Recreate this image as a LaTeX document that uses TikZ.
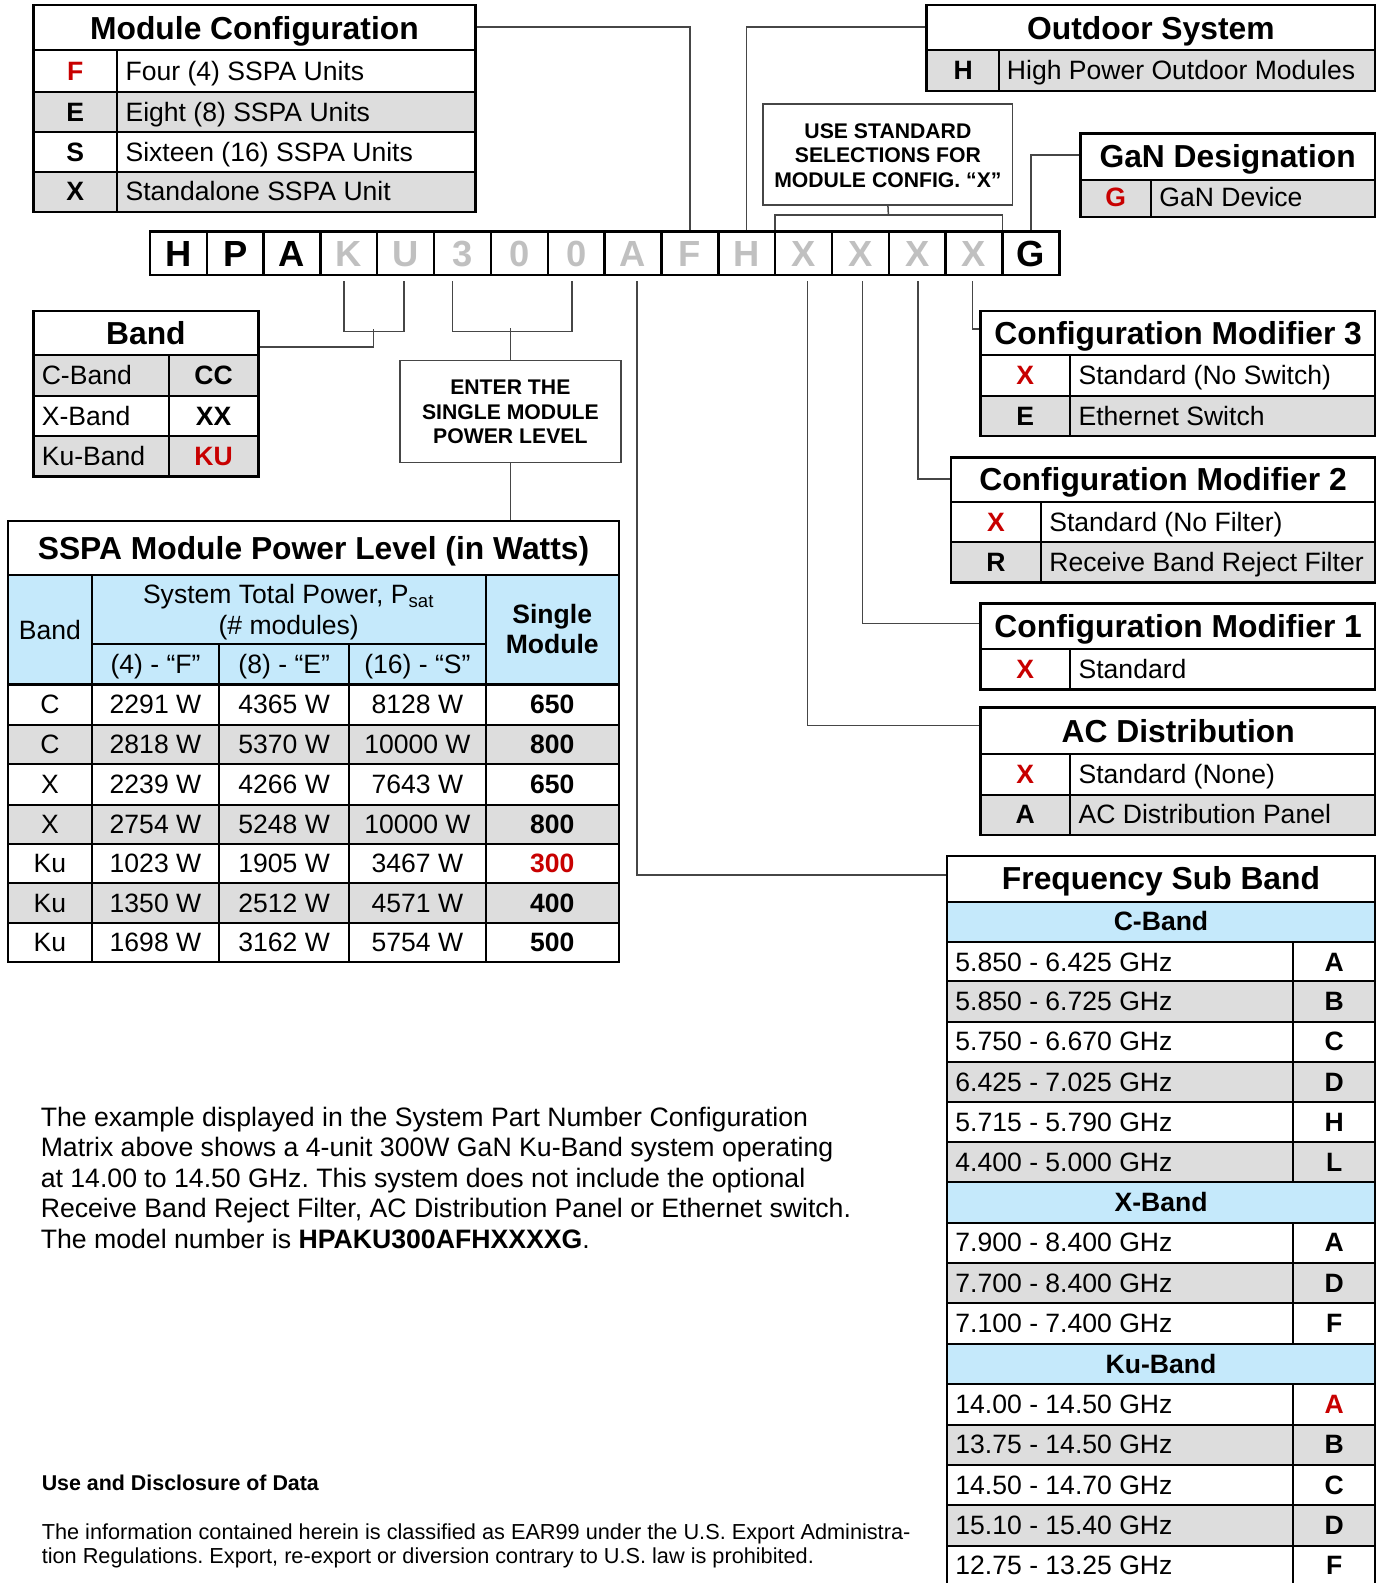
\documentclass[tikz,border=0pt]{standalone}
\usepackage{fontspec}
\setmainfont{Liberation Sans}
\usetikzlibrary{fit}
\definecolor{rd}{RGB}{200,0,0}
\definecolor{gy}{RGB}{221,221,221}
\definecolor{bl}{RGB}{197,233,251}
\definecolor{lg}{RGB}{192,192,192}
\definecolor{cn}{RGB}{70,70,70}
\frenchspacing
\newcount\nn
\newcommand\T[4][]{\global\advance\nn by 1 \node[txt,anchor=base west,#1] (t\the\nn) at (#2,#3) {#4};}
\newcommand\C[4][]{\global\advance\nn by 1 \node[txt,anchor=base,#1] (t\the\nn) at (#2,#3) {#4};}
\tikzset{
 txt/.style={font=\fontsize{13.15}{15}\selectfont, inner sep=0pt},
 bt/.style={font=\fontsize{13.15}{15}\selectfont\bfseries},
 ttl/.style={font=\fontsize{15.75}{18}\selectfont\bfseries},
 para/.style={font=\fontsize{13.2}{15}\selectfont},
 sm/.style={font=\fontsize{10.75}{12}\selectfont},
 smb/.style={font=\fontsize{10.6}{12}\selectfont\bfseries},
 frame/.style={draw, line width=1.3pt, inner sep=0pt},
 grid/.style={line width=1.0pt},
 conn/.style={draw=cn, line width=0.75pt},
 note/.style={draw=cn, line width=0.75pt, inner sep=0pt},
 notetxt/.style={font=\fontsize{10.5}{12}\selectfont\bfseries, align=center, inner sep=0pt},
}
\begin{document}
\begin{tikzpicture}[x=0.5pt,y=-0.5pt]
\useasboundingbox (0,0) rectangle (1366,1568);
\fill[white] (0,0) rectangle (1366,1568);

% ---------- Module Configuration
\fill[gy] (33,91) rectangle (471,131);
\fill[gy] (33,170) rectangle (471,210);
\draw[grid] (33,50) -- (471,50) (33,91) -- (471,91) (33,131) -- (471,131) (33,170) -- (471,170) (116,50) -- (116,210);
\node[frame, fit={(33,5) (471,210)}] (mc) {};
\C[ttl]{252}{39}{Module Configuration}
\C[bt,text=rd]{74.5}{79.5}{F} \T{124}{79.5}{Four (4) SSPA Units}
\C[bt]{74.5}{120}{E} \T{124}{120}{Eight (8) SSPA Units}
\C[bt]{74.5}{159.5}{S} \T{124}{159.5}{Sixteen (16) SSPA Units}
\C[bt]{74.5}{199}{X} \T{124}{199}{Standalone SSPA Unit}

% ---------- Outdoor System
\fill[gy] (918,50) rectangle (1362,90);
\draw[grid] (918,50) -- (1362,50) (990,50) -- (990,90);
\node[frame, fit={(918,5) (1362,90)}] (os) {};
\C[ttl]{1140}{39}{Outdoor System}
\C[bt]{954}{79}{H} \T{997}{79}{High Power Outdoor Modules}

% ---------- Use standard note
\node[note, fit={(756,103) (1003,203)}] (us) {};
\node[notetxt] (ust) at (879.5,154) {USE STANDARD\\SELECTIONS FOR\\MODULE CONFIG. “X”};

% ---------- GaN Designation
\fill[gy] (1070,178) rectangle (1362,215);
\draw[grid] (1070,178) -- (1362,178) (1140,178) -- (1140,215);
\node[frame, fit={(1070,132) (1362,215)}] (gd) {};
\C[ttl]{1216}{166}{GaN Designation}
\C[bt,text=rd]{1105}{205}{G} \T{1148}{205}{GaN Device}

% ---------- Code strip
\foreach \L/\col [count=\i from 0] in {H/black,P/black,A/black,K/lg,U/lg,3/lg,0/lg,0/lg,A/lg,F/lg,H/lg,X/lg,X/lg,X/lg,X/lg,G/black} {
  \pgfmathsetmacro\xl{147.3+56.3*\i}
  \node[draw, line width=1.2pt, minimum width=28.15pt, minimum height=21.5pt, inner sep=0pt, anchor=north west] (c\i) at (\xl,228) {};
  \node[font=\fontsize{18}{20}\selectfont\bfseries, text=\col, anchor=base, inner sep=0pt] (l\i) at ([yshift=4.5pt]c\i.south) {\L};
}

% ---------- Band
\fill[gy] (33,352) rectangle (256,392);
\fill[gy] (33,432) rectangle (256,472);
\draw[grid] (33,352) -- (256,352) (33,392) -- (256,392) (33,432) -- (256,432) (167,352) -- (167,472);
\node[frame, fit={(33,308) (256,472)}] (bd) {};
\C[ttl]{144.5}{341}{Band}
\T{41}{381}{C-Band} \C[bt]{211.5}{381}{CC}
\T{41}{421}{X-Band} \C[bt]{211.5}{421}{XX}
\T{41}{461}{Ku-Band} \C[bt,text=rd]{211.5}{461}{KU}

% ---------- Enter note
\node[note, fit={(396,357) (615,458)}] (en) {};
\node[notetxt] (ent) at (505.5,408) {ENTER THE\\SINGLE MODULE\\POWER LEVEL};

% ---------- SSPA power table
\fill[bl] (8,570) rectangle (613,678);
\fill[gy] (8,718) rectangle (613,757);
\fill[gy] (8,797) rectangle (613,836);
\fill[gy] (8,875) rectangle (613,914);
\draw[grid] (8,570) -- (613,570) (8,678) -- (613,678) (91,638) -- (481,638)
  (91,570) -- (91,953) (481,570) -- (481,953) (217,638) -- (217,953) (346,638) -- (346,953);
\foreach \yy in {718,757,797,836,875,914} \draw[grid] (8,\yy) -- (613,\yy);
\node[frame, fit={(8,516) (613,953)}] (sp) {};
\C[ttl]{310.5}{554}{SSPA Module Power Level (in Watts)}
\C{49.5}{633}{Band}
\C{286}{598}{System Total Power, P\textsubscript{sat}}
\C{286}{628}{(\# modules)}
\C{154}{667}{(4) - “F”}
\C{281.5}{667}{(8) - “E”}
\C{413.5}{667}{(16) - “S”}
\C[bt]{547}{618}{Single}
\C[bt]{547}{647}{Module}
\foreach \vA/\vB/\vC/\vD/\vE/\vF/\vY in {C/2291/4365/8128/650/black/707,
  C/2818/5370/10000/800/black/746.5, X/2239/4266/7643/650/black/786,
  X/2754/5248/10000/800/black/825.5, Ku/1023/1905/3467/300/rd/864.5,
  Ku/1350/2512/4571/400/black/903.5, Ku/1698/3162/5754/500/black/942.5} {
  \C{49.5}{\vY}{\vA}
  \C{154}{\vY}{\vB\ W}
  \C{281.5}{\vY}{\vC\ W}
  \C{413.5}{\vY}{\vD\ W}
  \C[bt,text=\vF]{547}{\vY}{\vE}
}

% ---------- Configuration Modifier 3
\fill[gy] (971,392) rectangle (1362,432);
\draw[grid] (971,352) -- (1362,352) (971,392) -- (1362,392) (1060,352) -- (1060,432);
\node[frame, fit={(971,308) (1362,432)}] (m3) {};
\C[ttl]{1167}{341}{Configuration Modifier 3}
\C[bt,text=rd]{1015.5}{381}{X} \T{1068}{381}{Standard (No Switch)}
\C[bt]{1015.5}{421}{E} \T{1068}{421}{Ethernet Switch}

% ---------- Configuration Modifier 2
\fill[gy] (942,537) rectangle (1362,577);
\draw[grid] (942,497) -- (1362,497) (942,537) -- (1362,537) (1031,497) -- (1031,577);
\node[frame, fit={(942,453) (1362,577)}] (m2) {};
\C[ttl]{1152}{486}{Configuration Modifier 2}
\C[bt,text=rd]{986.5}{526}{X} \T{1039}{526}{Standard (No Filter)}
\C[bt]{986.5}{566}{R} \T{1039}{566}{Receive Band Reject Filter}

% ---------- Configuration Modifier 1
\draw[grid] (971,643) -- (1362,643) (1060,643) -- (1060,683);
\node[frame, fit={(971,598) (1362,683)}] (m1) {};
\C[ttl]{1167}{631.5}{Configuration Modifier 1}
\C[bt,text=rd]{1015.5}{672}{X} \T{1068}{672}{Standard}

% ---------- AC Distribution
\fill[gy] (971,787) rectangle (1362,827);
\draw[grid] (971,747) -- (1362,747) (971,787) -- (1362,787) (1060,747) -- (1060,827);
\node[frame, fit={(971,701) (1362,827)}] (ac) {};
\C[ttl]{1167}{735}{AC Distribution}
\C[bt,text=rd]{1015.5}{776}{X} \T{1068}{776}{Standard (None)}
\C[bt]{1015.5}{816}{A} \T{1068}{816}{AC Distribution Panel}

% ---------- Frequency Sub Band
\fill[bl] (938,893) rectangle (1362,933);
\fill[bl] (938,1171) rectangle (1362,1211);
\fill[bl] (938,1331) rectangle (1362,1371);
\foreach \ra/\rb in {972/1012,1052/1092,1131/1171,1251/1291,1411/1451,1491/1531}
  \fill[gy] (938,\ra) rectangle (1362,\rb);
\foreach \yy in {893,933,972,1012,1052,1092,1131,1171,1211,1251,1291,1331,1371,1411,1451,1491,1531}
  \draw[grid] (938,\yy) -- (1362,\yy);
\draw[grid] (1281,933) -- (1281,1171) (1281,1211) -- (1281,1331) (1281,1371) -- (1281,1571);
\node[frame, fit={(938,848) (1362,1571)}] (fs) {};
\C[ttl]{1150}{881.5}{Frequency Sub Band}
\C[bt]{1150}{922}{C-Band}
\C[bt]{1150}{1200}{X-Band}
\C[bt]{1150}{1360}{Ku-Band}
\foreach \ry/\fq/\lt/\fc in {933/5.850 - 6.425 GHz/A/black, 972/5.850 - 6.725 GHz/B/black,
  1012/5.750 - 6.670 GHz/C/black, 1052/6.425 - 7.025 GHz/D/black,
  1092/5.715 - 5.790 GHz/H/black, 1131/4.400 - 5.000 GHz/L/black,
  1211/7.900 - 8.400 GHz/A/black, 1251/7.700 - 8.400 GHz/D/black,
  1291/7.100 - 7.400 GHz/F/black,
  1371/14.00 - 14.50 GHz/A/rd, 1411/13.75 - 14.50 GHz/B/black,
  1451/14.50 - 14.70 GHz/C/black, 1491/15.10 - 15.40 GHz/D/black,
  1531/12.75 - 13.25 GHz/F/black} {
  \pgfmathsetmacro\bb{\ry+29}
  \T{946}{\bb}{\fq}
  \C[bt,text=\fc]{1321.5}{\bb}{\lt}
}

% ---------- Connectors
\draw[conn] ([shift={(0,23)}]mc.north east) -| (c9.north);
\draw[conn] ([shift={(0,23)}]os.north west) -| (c10.north);
\draw[conn] ([shift={(0,23)}]gd.north west) -| (c15.north);
\coordinate (bk) at (880,213);
\draw[conn] (us.south) -- (bk);
\draw[conn] ([shift={(1,0)}]c11.north west) |- ([shift={(-1,-15)}]c14.north east) -- ([shift={(-1,0)}]c14.north east);
\coordinate (k1) at ([shift={(-5,5)}]c3.south);
\coordinate (k2) at ([shift={(-1.5,5)}]c4.south);
\draw[conn] (k1) -- ++(0,50) -| (k2);
\coordinate (k3) at (370,326);
\draw[conn] (k3) |- ([shift={(0,37)}]bd.north east);
\coordinate (p1) at ([shift={(-10,5)}]c5.south);
\coordinate (p2) at ([shift={(-4,5)}]c7.south);
\draw[conn] (p1) -- ++(0,50) -| (p2);
\draw[conn] (en.north) -- ++(0,-31);
\draw[conn] (en.south) -- (en.south |- sp.north);
\draw[conn] ([shift={(4,5)}]c8.south) |- ([shift={(0,20)}]fs.north west);
\draw[conn] ([shift={(4,5)}]c11.south) |- ([shift={(0,19)}]ac.north west);
\draw[conn] ([shift={(2,5)}]c12.south) |- ([shift={(0,21)}]m1.north west);
\draw[conn] ([shift={(0.5,5)}]c13.south) |- ([shift={(0,23)}]m2.north west);
\draw[conn] ([shift={(-1.5,5)}]c14.south) |- ([shift={(0,19)}]m3.north west);

% ---------- Paragraph and footer
\T[para]{40}{1115.5}{The example displayed in the System Part Number Configuration}
\T[para]{40}{1145.8}{Matrix above shows a 4-unit 300W GaN Ku-Band system operating}
\T[para]{40}{1176.1}{at 14.00 to 14.50 GHz. This system does not include the optional}
\T[para]{40}{1206.4}{Receive Band Reject Filter, AC Distribution Panel or Ethernet switch.}
\T[para]{40}{1236.7}{The model number is \textbf{HPAKU300AFHXXXXG}.}
\T[smb]{41}{1476}{Use and Disclosure of Data}
\T[sm]{41}{1525}{The information contained herein is classified as EAR99 under the U.S. Export Administra-}
\T[sm]{41}{1549}{tion Regulations. Export, re-export or diversion contrary to U.S. law is prohibited.}
\end{tikzpicture}
\end{document}
